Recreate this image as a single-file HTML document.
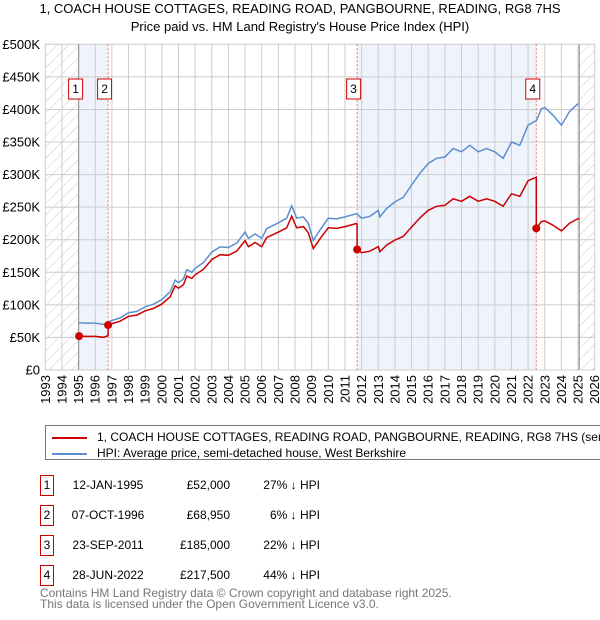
<!DOCTYPE html>
<html><head><meta charset="utf-8"><style>
body{margin:0;width:600px;height:620px;background:#fff;font-family:"Liberation Sans","DejaVu Sans",sans-serif;overflow:hidden;position:relative}
.t{position:absolute;font-size:13px;color:#000;white-space:nowrap}
</style></head><body>
<div class="t" style="left:0;width:600px;text-align:center;top:1px">1, COACH HOUSE COTTAGES, READING ROAD, PANGBOURNE, READING, RG8 7HS</div>
<div class="t" style="left:0;width:600px;text-align:center;top:19px">Price paid vs. HM Land Registry's House Price Index (HPI)</div>
<svg id="chart" width="600" height="420" style="position:absolute;left:0;top:0" font-family="Liberation Sans, DejaVu Sans, sans-serif"></svg>

<div style="position:absolute;left:45px;top:425px;width:555px;height:35px;border:1px solid #777;border-right:none;box-sizing:border-box;overflow:hidden">
  <div style="position:absolute;left:6px;top:4px;font-size:12px;white-space:nowrap"><span style="display:inline-block;width:35px;height:2px;background:#cc0000;vertical-align:middle;margin-right:10px"></span>1, COACH HOUSE COTTAGES, READING ROAD, PANGBOURNE, READING, RG8 7HS (semi-detached house)</div>
  <div style="position:absolute;left:6px;top:20px;font-size:12px;white-space:nowrap"><span style="display:inline-block;width:35px;height:2px;background:#5b8fd0;vertical-align:middle;margin-right:10px"></span>HPI: Average price, semi-detached house, West Berkshire</div>
</div>
<div id="table"></div>
<div class="t" style="left:40px;top:588px;font-size:12px;color:#777;line-height:11px">Contains HM Land Registry data © Crown copyright and database right 2025.<br>This data is licensed under the Open Government Licence v3.0.</div>

<script>
const hpiYears=[1995,1995.5,1996,1996.5,1996.8,1997,1997.5,1998,1998.5,1999,1999.5,2000,2000.5,2000.8,2001,2001.3,2001.5,2001.8,2002,2002.5,2003,2003.5,2004,2004.5,2005,2005.2,2005.6,2006,2006.3,2007,2007.5,2007.8,2008.1,2008.5,2008.8,2009.1,2009.5,2010,2010.5,2011,2011.7,2012,2012.5,2013,2013.1,2013.5,2014,2014.5,2015,2015.5,2016,2016.5,2017,2017.5,2018,2018.5,2019,2019.5,2020,2020.5,2021,2021.5,2022,2022.5,2022.8,2023,2023.5,2024,2024.5,2025];
const hpiValues=[72.6,72,72,70,74,76,80,88,90,97,101,108,120,138,134,140,154,150,156,165,181,189,188,195,212,202,209,202,217,226,233,252,233,235,225,199,215,233,232,235,240,233,236,245,235,248,258,265,284,302,317,325,327,340,335,345,335,340,335,325,350,345,376,383,401,403,391,376,397,409];
const saleYears=[1995.03,1996.77,2011.73,2022.49];
const salePrices=[52,68.95,185,217.5];
const saleLabels=["1","2","3","4"];
const saleDates=["12-JAN-1995","07-OCT-1996","23-SEP-2011","28-JUN-2022"];
const salePriceText=["£52,000","£68,950","£185,000","£217,500"];
const salePct=["27% ↓ HPI","6% ↓ HPI","22% ↓ HPI","44% ↓ HPI"];
const yTicks=[0,50,100,150,200,250,300,350,400,450,500];
const yTickLabels=["£0","£50K","£100K","£150K","£200K","£250K","£300K","£350K","£400K","£450K","£500K"];

const NS="http://www.w3.org/2000/svg";
const svg=document.getElementById('chart');
const X0=45.3,X1=594.7,Y0=370,Y1=44.3,YR0=1993,YR1=2026;
const xs=y=>X0+(y-YR0)/(YR1-YR0)*(X1-X0);
const ys=v=>Y0-v/500*(Y0-Y1);
function mk(t,a){const e=document.createElementNS(NS,t);for(const k in a)e.setAttribute(k,a[k]);svg.appendChild(e);return e;}
function hpiAt(t){for(let i=1;i<hpiYears.length;i++){if(t<=hpiYears[i]){const f=(t-hpiYears[i-1])/(hpiYears[i]-hpiYears[i-1]);return hpiValues[i-1]+f*(hpiValues[i]-hpiValues[i-1]);}}return hpiValues[hpiValues.length-1];}

const defs=mk('defs',{});
defs.innerHTML='<pattern id="hatch" width="8" height="8" patternUnits="userSpaceOnUse" patternTransform="rotate(45)"><line x1="0" y1="0" x2="0" y2="8" stroke="#ccc" stroke-width="1"/></pattern>';
let e;
e=mk('rect',{x:xs(saleYears[0]),y:Y1,width:xs(saleYears[1])-xs(saleYears[0]),height:Y0-Y1,fill:'#eef3fc'});


e=mk('rect',{x:xs(saleYears[2]),y:Y1,width:xs(saleYears[3])-xs(saleYears[2]),height:Y0-Y1,fill:'#eef3fc'});


e=mk('rect',{x:X0,y:Y1,width:xs(1995)-X0,height:Y0-Y1,fill:'url(#hatch)'});


e=mk('rect',{x:xs(2025.07),y:Y1,width:X1-xs(2025.07),height:Y0-Y1,fill:'url(#hatch)'});


for(let y=YR0;y<=YR1;y++){
  e=mk('line',{x1:xs(y),x2:xs(y),y1:Y1,y2:Y0,stroke:'#ccc','stroke-width':1});
  
  
  e=mk('text',{x:0,y:0,'font-size':13,'text-anchor':'end',transform:`translate(${xs(y)+4.5},${Y0+5}) rotate(-90)`});
  e.textContent=y;
  
  
}
yTicks.forEach((v,i)=>{
  e=mk('line',{x1:X0,x2:X1,y1:ys(v),y2:ys(v),stroke:'#ccc','stroke-width':1});
  
  
  e=mk('text',{x:40,y:ys(v)+4.5,'font-size':13,'text-anchor':'end'});
  e.textContent=yTickLabels[i];
  
  
});
e=mk('line',{x1:xs(1995),x2:xs(1995),y1:Y1,y2:Y0,stroke:'#999','stroke-width':1.2});


e=mk('line',{x1:xs(2025.07),x2:xs(2025.07),y1:Y1,y2:Y0,stroke:'#999','stroke-width':1.2});


saleYears.forEach((s,i)=>{
  if(i==0)return;
  e=mk('line',{x1:xs(s),x2:xs(s),y1:Y1,y2:Y0,stroke:'#f07070','stroke-width':1,'stroke-dasharray':'2,2'});
  
  
});
let d='';
hpiYears.forEach((t,i)=>{d+=(i?'L':'M')+xs(t).toFixed(1)+','+ys(hpiValues[i]).toFixed(1);});
e=mk('path',{d:d,fill:'none',stroke:'#5b8fd0','stroke-width':1.5});


let pts=[];
for(let i=0;i<saleYears.length;i++){
  const s=saleYears[i],end=i<saleYears.length-1?saleYears[i+1]:2025.07;
  const ratio=salePrices[i]/hpiAt(s);
  pts.push([s,salePrices[i]]);
  hpiYears.forEach((t,j)=>{if(t>s&&t<end)pts.push([t,hpiValues[j]*ratio]);});
  pts.push([end,hpiAt(end)*ratio]);
}
d='';
pts.forEach((p,i)=>{d+=(i?'L':'M')+xs(p[0]).toFixed(1)+','+ys(p[1]).toFixed(1);});
e=mk('path',{d:d,fill:'none',stroke:'#cc0000','stroke-width':1.5});


saleYears.forEach((s,i)=>{
  e=mk('circle',{cx:xs(s),cy:ys(salePrices[i]),r:4,fill:'#cc0000'});
  
  
  const bx=xs(s)-10.5;
  e=mk('rect',{x:bx,y:79,width:14,height:20,fill:'#fff',stroke:'#cc0000','stroke-width':1});
  
  
  e=mk('text',{x:bx+7,y:93,'font-size':12,'text-anchor':'middle'});
  e.textContent=saleLabels[i];
  
  
});
const tb=document.getElementById('table');
saleLabels.forEach((l,i)=>{
  const top=475+i*30;
  const row=document.createElement('div');
  
  
  row.style.cssText=`position:absolute;left:0;top:${top}px;width:600px;height:22px;font-size:12px`;
  row.innerHTML=`<div style="position:absolute;left:40px;top:0;width:12px;height:19px;border:1px solid #cc0000;text-align:center;line-height:19px">${l}</div>`+
  `<div style="position:absolute;left:68px;width:80px;text-align:center;top:3px">${saleDates[i]}</div>`+
  `<div style="position:absolute;left:150px;width:80px;text-align:right;top:3px">${salePriceText[i]}</div>`+
  `<div style="position:absolute;left:240px;width:80px;text-align:right;top:3px">${salePct[i]}</div>`;
  tb.appendChild(row);
});
</script>
</body></html>
